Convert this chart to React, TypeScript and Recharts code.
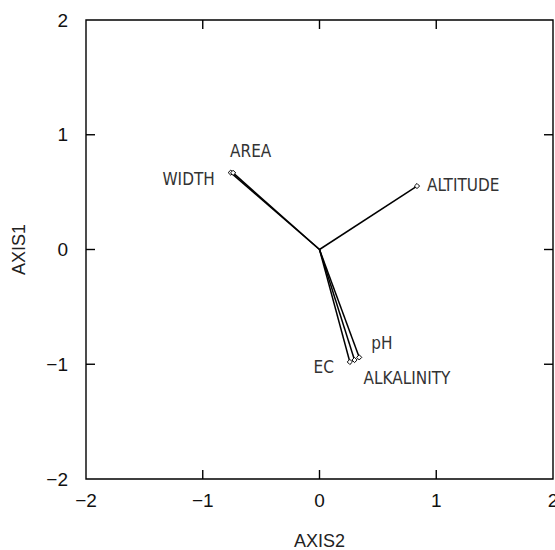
import React from 'react';
import { ScatterChart, Scatter, XAxis, YAxis, ReferenceArea } from 'recharts';

// Biplot vectors: environmental variables on ordination axes
const variables = ['ALTITUDE', 'WIDTH', 'AREA', 'EC', 'ALKALINITY', 'pH'];
const axis2Scores = [0.835, -0.76, -0.74, 0.26, 0.3, 0.34];
const axis1Scores = [0.553, 0.67, 0.668, -0.98, -0.963, -0.94];
const tickValues = [-2, -1, 0, 1, 2];
const axisMin = -2;
const axisMax = 2;

// Layout constants
const CHART_W = 555;
const CHART_H = 550;
const MARGIN = { top: 20, right: 2, bottom: 0, left: 0 };
const Y_AXIS_W = 86;
const X_AXIS_H = 71;
const PLOT_W = CHART_W - MARGIN.left - MARGIN.right - Y_AXIS_W;
const PLOT_H = CHART_H - MARGIN.top - MARGIN.bottom - X_AXIS_H;
const TICK_SIZE = 6;
const X_TICK_MARGIN = 9;
const Y_TICK_MARGIN = 12;
const INNER_TICK = 9;

// Label placement relative to each vector tip (px)
const labelPlacement: Record<string, { dx: number; dy: number; anchor: 'start' | 'end' }> = {
  ALTITUDE: { dx: 10, dy: 5, anchor: 'start' },
  WIDTH: { dx: -16, dy: 12, anchor: 'end' },
  AREA: { dx: -3, dy: -16, anchor: 'start' },
  EC: { dx: -16, dy: 11, anchor: 'end' },
  ALKALINITY: { dx: 9, dy: 24, anchor: 'start' },
  pH: { dx: 12, dy: -8, anchor: 'start' },
};

const vectors = variables.map((name, i) => ({
  name,
  points: [
    { x: 0, y: 0, name, tip: false },
    { x: axis2Scores[i], y: axis1Scores[i], name, tip: true },
  ],
}));

const fmt = (v: number) => (v < 0 ? `\u2212${Math.abs(v)}` : `${v}`);

const tickFontFamily = "'Liberation Sans', Arial, sans-serif";
const labelFont = "'Liberation Sans Narrow', 'DejaVu Sans Condensed', 'Liberation Sans', sans-serif";
const isInner = (v: number) => v > axisMin && v < axisMax;

// Bottom tick: value label plus inward marks on the bottom and top frame edges
const XTick = (props: any) => {
  const { x, y, payload } = props;
  const v = payload.value as number;
  const base = y - TICK_SIZE - X_TICK_MARGIN;
  const top = base - PLOT_H;
  return (
    <g>
      {isInner(v) && (
        <>
          <line x1={x} y1={base} x2={x} y2={base - INNER_TICK} stroke="#000" strokeWidth={1.4} />
          <line x1={x} y1={top} x2={x} y2={top + INNER_TICK} stroke="#000" strokeWidth={1.4} />
        </>
      )}
      <text x={x} y={y} dy="0.71em" textAnchor="middle" fontFamily={tickFontFamily} fontSize={19} fill="#111">
        {fmt(v)}
      </text>
    </g>
  );
};

// Left tick: value label plus inward marks on the left and right frame edges
const YTick = (props: any) => {
  const { x, y, payload } = props;
  const v = payload.value as number;
  const left = x + TICK_SIZE + Y_TICK_MARGIN;
  const right = left + PLOT_W;
  return (
    <g>
      {isInner(v) && (
        <>
          <line x1={left} y1={y} x2={left + INNER_TICK} y2={y} stroke="#000" strokeWidth={1.4} />
          <line x1={right} y1={y} x2={right - INNER_TICK} y2={y} stroke="#000" strokeWidth={1.4} />
        </>
      )}
      <text x={x} y={y} dy="0.355em" textAnchor="end" fontFamily={tickFontFamily} fontSize={19} fill="#111">
        {fmt(v)}
      </text>
    </g>
  );
};

const TipShape = (props: any) => {
  const { cx, cy, payload } = props;
  if (!payload || !payload.tip) return <g />;
  const p = labelPlacement[payload.name];
  const s = 2.6;
  return (
    <g>
      <path
        d={`M${cx},${cy - s} L${cx + s},${cy} L${cx},${cy + s} L${cx - s},${cy} Z`}
        fill="#fff"
        stroke="#000"
        strokeWidth={1}
      />
      <text
        x={cx + p.dx}
        y={cy + p.dy}
        textAnchor={p.anchor}
        fontFamily={labelFont}
        fontSize={17}
        fill="#333"
      >
        {payload.name}
      </text>
    </g>
  );
};

export default function App() {
  return (
    <div style={{ position: 'absolute', left: 0, top: 0 }}>
      <ScatterChart width={CHART_W} height={CHART_H} margin={MARGIN}>
        <XAxis
          xAxisId="b"
          type="number"
          dataKey="x"
          domain={[axisMin, axisMax]}
          ticks={tickValues}
          height={X_AXIS_H}
          tickLine={false}
          tickSize={TICK_SIZE}
          tickMargin={X_TICK_MARGIN}
          axisLine={false}
          tick={XTick}
          interval={0}
          label={{
            value: 'AXIS2',
            position: 'insideBottom',
            offset: 3,
            style: { fontFamily: tickFontFamily, fontSize: 18, fill: '#222' },
          }}
        />
        <YAxis
          yAxisId="l"
          type="number"
          dataKey="y"
          domain={[axisMin, axisMax]}
          ticks={tickValues}
          width={Y_AXIS_W}
          tickLine={false}
          tickSize={TICK_SIZE}
          tickMargin={Y_TICK_MARGIN}
          axisLine={false}
          tick={YTick}
          interval={0}
          label={{
            value: 'AXIS1',
            angle: -90,
            position: 'insideLeft',
            offset: 19,
            style: { textAnchor: 'middle', fontFamily: tickFontFamily, fontSize: 18, fill: '#222' },
          }}
        />
        <ReferenceArea
          xAxisId="b"
          yAxisId="l"
          x1={axisMin}
          x2={axisMax}
          y1={axisMin}
          y2={axisMax}
          fill="none"
          stroke="#000"
          strokeWidth={1.4}
        />
        {vectors.map((v) => (
          <Scatter
            key={v.name}
            xAxisId="b"
            yAxisId="l"
            data={v.points}
            line={{ stroke: '#000', strokeWidth: 1.5 }}
            shape={TipShape}
            isAnimationActive={false}
          />
        ))}
      </ScatterChart>
    </div>
  );
}
